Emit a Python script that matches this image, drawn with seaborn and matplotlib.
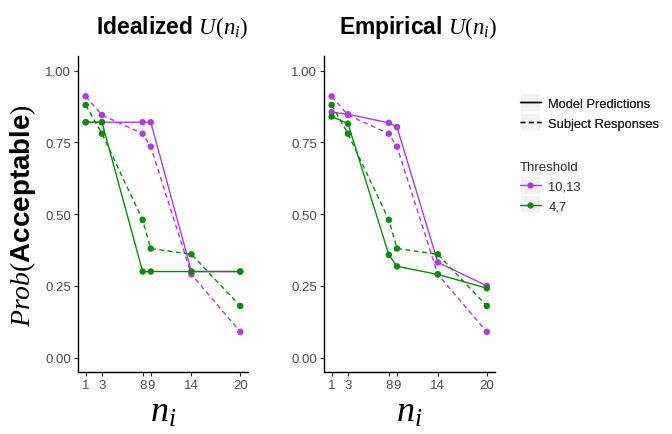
import numpy as np
import pandas as pd
import matplotlib
matplotlib.use("Agg")
import matplotlib.pyplot as plt
from matplotlib.lines import Line2D
from matplotlib.patches import Rectangle
import seaborn as sns

# ─── Data ─────────────────────────────────────────────────────────────────────

n_values = [1, 3, 8, 9, 14, 20]
thresholds = ["10,13", "4,7"]

ideal_model_hi = [0.82, 0.82, 0.82, 0.82, 0.30, 0.30]
ideal_model_lo = [0.82, 0.82, 0.30, 0.30, 0.30, 0.30]
emp_model_hi = [0.855, 0.848, 0.818, 0.803, 0.332, 0.250]
emp_model_lo = [0.840, 0.815, 0.358, 0.318, 0.290, 0.242]
subj_hi = [0.91, 0.845, 0.78, 0.735, 0.29, 0.09]
subj_lo = [0.88, 0.78, 0.48, 0.38, 0.36, 0.18]

panel_titles = [r"Idealized $U(n_i)$", r"Empirical $U(n_i)$"]
colors = {"10,13": "#B23CDB", "4,7": "#0A8C0A"}


def panel_frame(model_hi, model_lo):
    rows = []
    for thr, model, subj in [("10,13", model_hi, subj_hi), ("4,7", model_lo, subj_lo)]:
        for n, m, s in zip(n_values, model, subj):
            rows.append({"n": n, "p": m, "Threshold": thr, "Type": "Model Predictions"})
            rows.append({"n": n, "p": s, "Threshold": thr, "Type": "Subject Responses"})
    return pd.DataFrame(rows)


frames = [panel_frame(ideal_model_hi, ideal_model_lo),
          panel_frame(emp_model_hi, emp_model_lo)]

# ─── Style ────────────────────────────────────────────────────────────────────

sns.set_style("ticks")
plt.rcParams["font.family"] = ["Liberation Sans", "DejaVu Sans"]
plt.rcParams["mathtext.fontset"] = "custom"
plt.rcParams["mathtext.it"] = "Liberation Serif:italic"
plt.rcParams["mathtext.rm"] = "Liberation Serif"
plt.rcParams["mathtext.bf"] = "Liberation Sans:bold"

fig = plt.figure(figsize=(6.72, 4.35), dpi=100)
axes = [fig.add_axes([0.116, 0.1425, 0.253, 0.726]),
        fig.add_axes([0.482, 0.1425, 0.254, 0.726])]

for ax, df, title in zip(axes, frames, panel_titles):
    sns.lineplot(data=df, x="n", y="p", hue="Threshold", style="Type",
                 palette=colors, hue_order=thresholds,
                 dashes={"Model Predictions": "", "Subject Responses": (3.5, 2.5)},
                 linewidth=1.0, legend=False, ax=ax)
    sns.scatterplot(data=df, x="n", y="p", hue="Threshold", palette=colors,
                    hue_order=thresholds, s=22, edgecolor="none",
                    legend=False, ax=ax, zorder=3)
    ax.set_xlim(0.05, 20.95)
    ax.set_ylim(-0.05, 1.05)
    ax.set_xticks(n_values)
    ax.set_xticklabels([str(v) for v in n_values])
    ax.set_yticks([0, 0.25, 0.5, 0.75, 1.0])
    ax.set_yticklabels(["0.00", "0.25", "0.50", "0.75", "1.00"])
    ax.tick_params(labelsize=9.5, labelcolor="#4D4D4D", length=3, width=0.8,
                   color="#333333", pad=2)
    for side in ["top", "right"]:
        ax.spines[side].set_visible(False)
    for side in ["left", "bottom"]:
        ax.spines[side].set_linewidth(1.0)
        ax.spines[side].set_color("black")
    ax.set_xlabel(r"$n_i$", fontsize=26, labelpad=2, color="black")
    ax.set_ylabel("")
    ax.set_title(title, fontsize=16.5, fontweight="bold", pad=17, color="black",
                 x=0.553)

axes[0].set_ylabel(r"$Prob(\mathbf{Acceptable})$", fontsize=20, labelpad=5,
                   color="black")

# ─── Legends ──────────────────────────────────────────────────────────────────

type_handles = [Line2D([], [], color="black", lw=1.0, ls="-"),
                Line2D([], [], color="black", lw=1.0, ls=(0, (3.5, 2.5)))]
leg1 = fig.legend(type_handles, ["Model Predictions", "Subject Responses"],
                  loc="upper left", bbox_to_anchor=(0.766, 0.785), frameon=False,
                  fontsize=9.3, handlelength=1.6, handletextpad=0.6,
                  labelspacing=0.6, borderaxespad=0)
fig.add_artist(leg1)

thr_handles = [Line2D([], [], color=colors[t], lw=1.0, marker="o", markersize=3.5)
               for t in thresholds]
leg2 = fig.legend(thr_handles, thresholds, title="Threshold", loc="upper left",
                  bbox_to_anchor=(0.766, 0.64), frameon=False, fontsize=9.3,
                  title_fontsize=9.5, handlelength=1.6, handletextpad=0.6,
                  labelspacing=0.6, borderaxespad=0, alignment="left")

# grey key backgrounds, like ggplot legend keys
fig.canvas.draw()
renderer = fig.canvas.get_renderer()
to_fig = fig.transFigure.inverted()
for leg in [leg1, leg2]:
    for line in leg.get_lines():
        bb = line.get_window_extent(renderer)
        cx, cy = (bb.x0 + bb.x1) / 2, (bb.y0 + bb.y1) / 2
        w, hgt = 19, 17
        x0, y0 = to_fig.transform((cx - w / 2, cy - hgt / 2))
        x1, y1 = to_fig.transform((cx + w / 2, cy + hgt / 2))
        fig.patches.append(Rectangle((x0, y0), x1 - x0, y1 - y0,
                                     transform=fig.transFigure, facecolor="#F2F2F2",
                                     edgecolor="none", zorder=0))

fig.savefig("out.png", dpi=100)
